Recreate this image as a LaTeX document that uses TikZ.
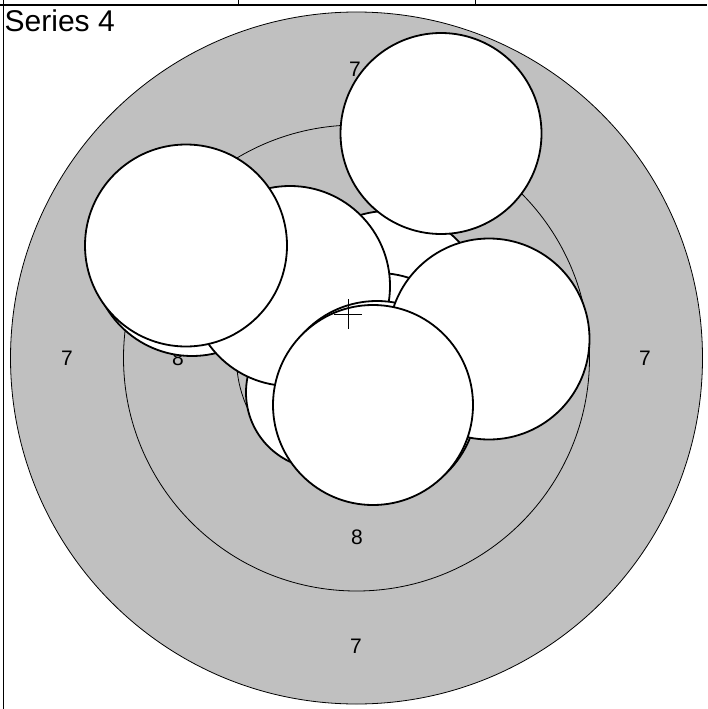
\documentclass[tikz,border=0pt]{standalone}
\usepackage{fontspec}
\setmainfont{Liberation Sans}
\definecolor{bandgrey}{RGB}{192,192,192}

\begin{document}
\begin{tikzpicture}[x=1pt,y=-1pt,
  bubble/.style={draw=black,fill=white,line width=1.8pt},
  bandline/.style={draw=black,line width=0.8pt},
  bandlabel/.style={inner sep=0pt,font=\fontsize{21}{24}\selectfont}]
 \useasboundingbox (0,0) rectangle (707,709);
 % cell frame
 \draw[line width=1.5pt] (0,5) -- (707,5);
 \draw[line width=0.9pt] (3.5,0) -- (3.5,709);
 \draw[line width=0.9pt] (238,0) -- (238,5) (475,0) -- (475,5);
 \node[anchor=base west,inner sep=0pt,font=\fontsize{30}{34}\selectfont] (title) at (4.5,31.5) {Series 4};
 % bands
 \filldraw[bandline,fill=bandgrey] (356.5,358) circle[radius=346pt];
 \draw[bandline] (356.5,358) circle[radius=233pt];
 \draw[bandline] (356.5,358) circle[radius=120pt];
 \node[bandlabel] (seven-n) at (355,69) {7};
 \node[bandlabel] (seven-w) at (67,358) {7};
 \node[bandlabel] (seven-e) at (645,358) {7};
 \node[bandlabel] (seven-s) at (356,646) {7};
 \node[bandlabel] (eight-w) at (178,358) {8};
 \node[bandlabel] (eight-s) at (357,537) {8};
 % bubbles, back to front
 \foreach \cx/\cy/\r in {192/256/100, 388/308/97, 378/373/100, 322.5/392.5/76.5,
                        290/286/100, 186/245.5/101, 441/133.5/100.5,
                        377/401/100, 489/339/100.5, 373/405/100}
   \filldraw[bubble] (\cx,\cy) circle[radius=\r pt];
 % centre mark
 \draw[line width=1pt] (334,314) -- (362,314) (348,299) -- (348,329);
\end{tikzpicture}
\end{document}
